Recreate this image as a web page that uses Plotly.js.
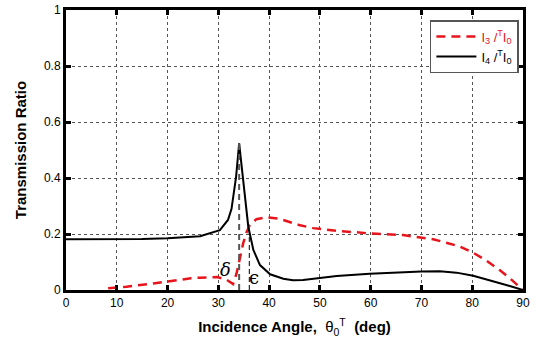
<!DOCTYPE html>
<html><head><meta charset="utf-8">
<script src="https://cdn.plot.ly/plotly-3.0.1.min.js"></script>
<style>html,body{margin:0;padding:0;background:#fff}#chart{width:542px;height:344px}</style>
</head><body><div id="chart"></div>
<script>
// I4/I0 (black solid)
const angleI4 = [0, 10, 15, 20, 26.4, 30.3, 31.9, 32.6, 33.5, 34.1, 34.8, 35.4, 35.9, 36.9, 38.2, 40.2, 42.8, 44.7, 46.7, 50, 53.3, 59.8, 65.7, 70, 73.6, 76.9, 80.2, 84.1, 87.4, 90];
const ratioI4 = [0.181, 0.181, 0.182, 0.185, 0.192, 0.214, 0.25, 0.29, 0.405, 0.524, 0.405, 0.286, 0.226, 0.143, 0.089, 0.056, 0.04, 0.035, 0.036, 0.043, 0.05, 0.058, 0.064, 0.066, 0.067, 0.062, 0.051, 0.032, 0.014, 0];
// I3/I0 (red dashed)
const angleI3 = [8.3, 11.9, 17.9, 20.5, 24.6, 26.3, 29.8, 31.5, 32.6, 32.9, 33.6, 34.3, 34.9, 35.6, 36.2, 37.5, 39.5, 42.1, 46.1, 48.7, 53.3, 57.2, 59.8, 66.4, 69, 72.3, 74.9, 77.6, 80.2, 82.8, 85.4, 87.4, 90];
const ratioI3 = [0.006, 0.012, 0.025, 0.032, 0.042, 0.044, 0.046, 0.038, 0.024, 0.021, 0.06, 0.114, 0.167, 0.208, 0.232, 0.253, 0.26, 0.254, 0.231, 0.221, 0.211, 0.206, 0.202, 0.196, 0.19, 0.181, 0.169, 0.155, 0.133, 0.105, 0.071, 0.042, 0];
// marker lines for delta and epsilon angles
const deltaX = [34.1, 34.1];
const deltaY = [0, 0.524];
const epsX = [36.1, 36.1];
const epsY = [0, 0.21];
const xTicks = [0, 10, 20, 30, 40, 50, 60, 70, 80, 90];
const yTicks = [0, 0.2, 0.4, 0.6, 0.8, 1];

const FONT = 'Liberation Sans, Arial, sans-serif';
const traces = [
  {x: angleI3, y: ratioI3, mode: 'lines', name: 'I<sub>3</sub> /<sup>T</sup>I<sub>0</sub>',
   line: {color: '#e8141c', width: 2.5, dash: '9px,6px'}},
  {x: angleI4, y: ratioI4, mode: 'lines', name: 'I<sub>4</sub> /<sup>T</sup>I<sub>0</sub>',
   line: {color: '#000', width: 2}},
  {x: deltaX, y: deltaY, mode: 'lines', showlegend: false, hoverinfo: 'skip',
   line: {color: '#555', width: 2, dash: '6px,4px'}},
  {x: epsX, y: epsY, mode: 'lines', showlegend: false, hoverinfo: 'skip',
   line: {color: '#000', width: 1, dash: '5px,3px'}}
];
const axisCommon = {
  showline: true, linecolor: '#000', linewidth: 3, mirror: 'ticks',
  ticks: 'inside', ticklen: 5, tickwidth: 3, tickcolor: '#000',
  showgrid: true, gridcolor: '#555', griddash: 'dot', gridwidth: 1,
  zeroline: false, tickfont: {family: FONT, size: 12, color: '#000'}
};
const layout = {
  width: 542, height: 344,
  margin: {l: 66, r: 19, t: 10, b: 54},
  paper_bgcolor: '#fff', plot_bgcolor: '#fff',
  font: {family: FONT, color: '#000'},
  xaxis: Object.assign({}, axisCommon, {range: [0, 90], tickvals: xTicks, ticktext: xTicks.map(String),
    title: {text: '<b>Incidence Angle,</b>  θ<sub>0</sub><sup>T</sup>  <b>(deg)</b>', font: {family: FONT, size: 15}, standoff: 13}}),
  yaxis: Object.assign({}, axisCommon, {range: [0, 1], tickvals: yTicks, ticktext: ['0', '0.2', '0.4', '0.6', '0.8', '1'],
    title: {text: '<b>Transmission Ratio</b>', font: {family: FONT, size: 15}, standoff: 14}}),
  legend: {x: 0.991, y: 0.964, xanchor: 'right', yanchor: 'top', bgcolor: '#fff',
    bordercolor: '#555', borderwidth: 1.5, font: {family: FONT, size: 13, color: '#000'},
    tracegroupgap: 0, itemwidth: 40},
  annotations: [
    {x: 31.5, y: 0.075, xref: 'x', yref: 'y', text: '<i>δ</i>', showarrow: false, font: {family: 'DejaVu Serif, serif', size: 18, color: '#000'}},
    {x: 37.0, y: 0.045, xref: 'x', yref: 'y', text: 'ϵ', showarrow: false, font: {family: 'DejaVu Serif, serif', size: 18, color: '#000'}}
  ]
};
Plotly.newPlot('chart', traces, layout, {displayModeBar: false, staticPlot: true}).then(function(){
  const texts = document.querySelectorAll('.legend .legendtext');
  if (texts[0]) texts[0].style.fill = '#e8141c';
});
</script></body></html>
